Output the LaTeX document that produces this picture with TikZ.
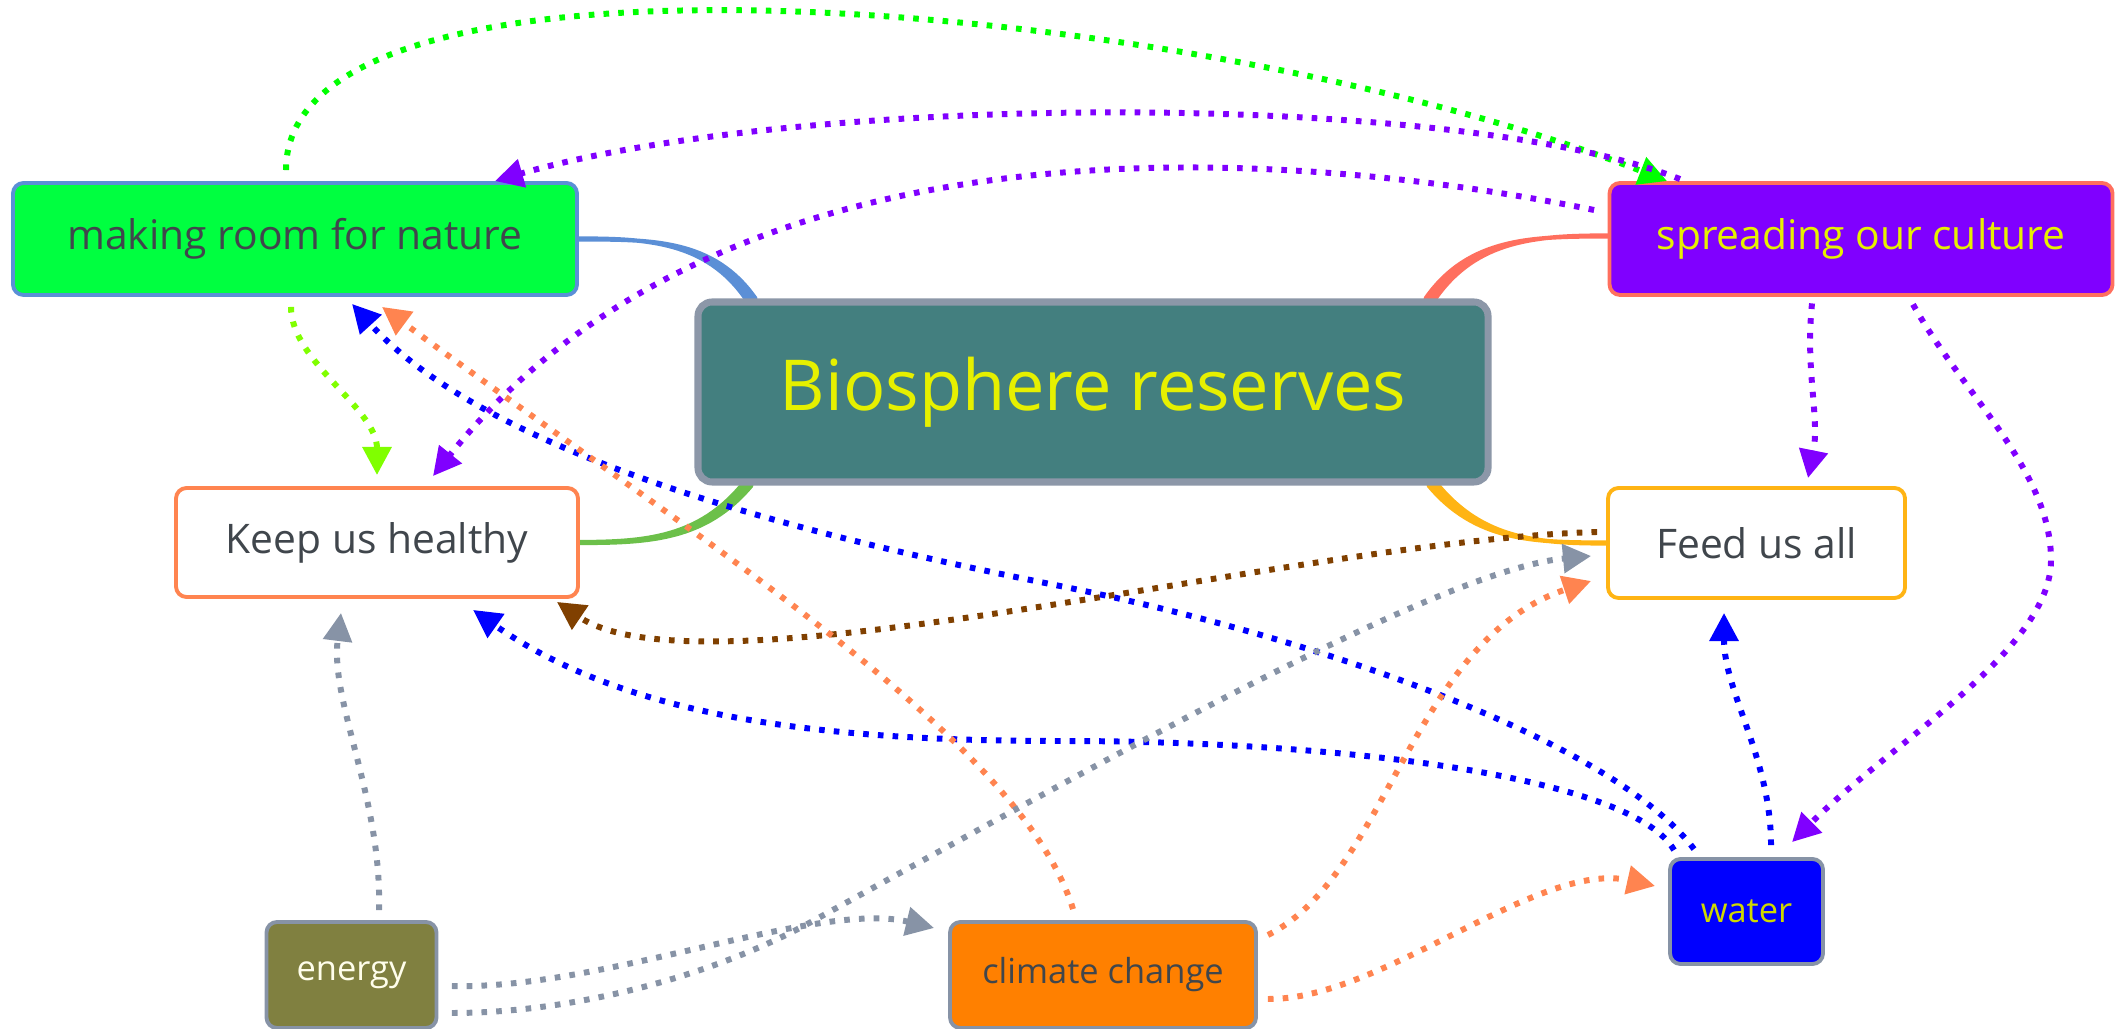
\documentclass[tikz,border=0pt]{standalone}
\usepackage{fontspec}
\setmainfont{Open Sans}
\usepackage{tikz}
\usetikzlibrary{arrows.meta,backgrounds}
\usepackage{xcolor}

\definecolor{hubfill}{RGB}{67,127,127}
\definecolor{hubedge}{RGB}{140,151,168}
\definecolor{hubtext}{RGB}{230,240,0}
\definecolor{txtgray}{RGB}{64,70,76}
\definecolor{cblue}{RGB}{91,143,214}
\definecolor{csalmon}{RGB}{255,111,94}
\definecolor{ccoral}{RGB}{255,132,80}
\definecolor{camber}{RGB}{255,180,20}
\definecolor{cleaf}{RGB}{108,192,74}
\definecolor{cgreen}{RGB}{0,255,64}
\definecolor{clime}{RGB}{0,255,0}
\definecolor{cchart}{RGB}{128,255,0}
\definecolor{cpurple}{RGB}{128,0,255}
\definecolor{cbrown}{RGB}{128,64,0}
\definecolor{cslate}{RGB}{135,147,166}
\definecolor{colive}{RGB}{128,128,64}
\definecolor{corange}{RGB}{255,128,0}
\definecolor{cwater}{RGB}{0,0,255}

\begin{document}
\begin{tikzpicture}[
    topic/.style={rectangle, rounded corners=3pt, draw, line width=1.1pt, minimum height=1.12cm,
        font=\fontsize{11.6}{14}\selectfont, text=txtgray},
    small/.style={rectangle, rounded corners=3pt, draw=cslate, line width=1.1pt, minimum height=1.06cm,
        font=\fontsize{9.8}{12}\selectfont},
    hub/.style={rectangle, rounded corners=4pt, draw=hubedge, fill=hubfill, line width=2pt,
        minimum width=7.9cm, minimum height=1.8cm, text=hubtext, font=\fontsize{20}{24}\selectfont},
    branch/.style={line width=1.2pt, line join=round},
    dotlink/.style={draw=#1, line width=1.7pt, dash pattern=on 1.6pt off 2.6pt,
        -{Triangle[length=8pt,width=8pt]}}
]
\useasboundingbox (0,0) rectangle (21.17,-10.29);

% Central topic
\node[hub] (bio) at (10.93,-3.92) {Biosphere reserves};

% Main branches
\node[topic, draw=cblue, fill=cgreen, minimum width=5.64cm] (room) at (2.95,-2.39) {making room for nature};
\node[topic, draw=csalmon, fill=cpurple, minimum width=5.03cm, text=hubtext] (spread) at (18.61,-2.39) {spreading our culture};
\node[topic, draw=ccoral, fill=white, minimum width=4.02cm, minimum height=1.09cm] (keep) at (3.77,-5.425) {Keep us healthy};
\node[topic, draw=camber, fill=white, minimum width=2.97cm, minimum height=1.1cm] (feed) at (17.565,-5.43) {Feed us all};

% Floating topics
\node[small, fill=colive, minimum width=1.7cm, text=white!92!yellow] (energy) at (3.515,-9.75) {energy};
\node[small, fill=corange, minimum width=3.06cm, text=txtgray] (climate) at (11.03,-9.75) {climate change};
\node[small, fill=cwater, minimum width=1.53cm, minimum height=1.05cm, text=hubtext!90!black] (water) at (17.465,-9.115) {water};

% Tapered branch lines under the hub
\begin{scope}[on background layer]
\filldraw[branch, cblue] ([yshift=0.005cm]room.east) to[out=0,in=125] ([xshift=0.51cm]bio.north west)
    -- ([xshift=0.61cm]bio.north west) to[out=125,in=0] ([yshift=-0.005cm]room.east) -- cycle;
\filldraw[branch, csalmon] ([yshift=0.035cm]spread.west) to[out=180,in=55] ([xshift=-0.56cm]bio.north east)
    -- ([xshift=-0.66cm]bio.north east) to[out=55,in=180] ([yshift=0.025cm]spread.west) -- cycle;
\filldraw[branch, camber] ([yshift=-0.005cm]feed.west) to[out=180,in=-50] ([xshift=-0.53cm]bio.south east)
    -- ([xshift=-0.63cm]bio.south east) to[out=-50,in=180] ([yshift=0.005cm]feed.west) -- cycle;
\filldraw[branch, cleaf] ([yshift=-0.005cm]keep.east) to[out=0,in=-130] ([xshift=0.57cm]bio.south west)
    -- ([xshift=0.47cm]bio.south west) to[out=-130,in=0] ([yshift=0.005cm]keep.east) -- cycle;
\end{scope}

% Relations
\draw[dotlink=clime] ([xshift=-0.09cm,yshift=0.11cm]room.north)
    .. controls +(0,2.52) and +(-4.67,1.82) .. ([xshift=-1.94cm]spread.north);
\draw[dotlink=cpurple] ([xshift=-1.81cm,yshift=0.02cm]spread.north)
    .. controls +(-2.3,0.9) and +(3.05,0.88) .. ([xshift=2.0cm]room.north);
\draw[dotlink=cpurple] ([xshift=-0.135cm,yshift=0.29cm]spread.west)
    .. controls +(-3.46,0.7) and +(2.87,3.58) .. ([xshift=0.56cm,yshift=0.1cm]keep.north);
\draw[dotlink=cchart] ([xshift=-0.04cm,yshift=-0.1cm]room.south)
    .. controls +(0,-0.55) and +(0,0.67) .. ([yshift=0.11cm]keep.north);
\draw[dotlink=cpurple] ([xshift=-0.49cm,yshift=-0.065cm]spread.south)
    .. controls +(-0.07,-0.68) and +(0.12,0.6) .. ([xshift=0.515cm,yshift=0.08cm]feed.north);
\draw[dotlink=cpurple] ([xshift=0.52cm,yshift=-0.075cm]spread.south)
    .. controls +(0.5,-0.9) and +(0,0.9) .. (20.51,-5.6)
    .. controls +(0,-0.9) and +(1.0,1.0) .. ([xshift=0.455cm,yshift=0.15cm]water.north);
\draw[dotlink=cbrown] ([xshift=-0.09cm,yshift=0.11cm]feed.west)
    .. controls +(-2.99,-0.08) and +(1.48,-1.0) .. ([xshift=-0.23cm,yshift=-0.03cm]keep.south east);

\draw[dotlink=cwater] ([xshift=-0.525cm,yshift=0.08cm]water.north)
    .. controls +(-0.84,1.11) and +(2.5,-0.5) .. (10.6,-5.86)
    .. controls +(-2.0,0.4) and +(1.5,-1.65) .. ([xshift=0.57cm,yshift=-0.07cm]room.south);
\draw[dotlink=cwater] ([xshift=-0.725cm,yshift=0.07cm]water.north)
    .. controls +(-0.4,0.7) and +(3.0,0) .. (10.6,-7.41)
    .. controls +(-2.5,0) and +(1.5,-1.05) .. ([xshift=0.96cm,yshift=-0.11cm]keep.south);
\draw[dotlink=cwater] ([xshift=0.245cm,yshift=0.12cm]water.north)
    .. controls +(0,0.87) and +(0,-0.79) .. ([xshift=-0.325cm,yshift=-0.13cm]feed.south);

\draw[dotlink=ccoral] ([xshift=-0.3cm,yshift=0.11cm]climate.north)
    .. controls +(-0.53,1.71) and +(3.18,-2.35) .. ([xshift=0.87cm,yshift=-0.1cm]room.south);
\draw[dotlink=ccoral] ([xshift=0.1cm,yshift=0.4cm]climate.east)
    .. controls +(1.2,0.6) and +(-1.8,-0.6) .. ([xshift=-0.15cm,yshift=-0.38cm]feed.west);
\draw[dotlink=ccoral] ([xshift=0.1cm,yshift=-0.24cm]climate.east)
    .. controls +(1.14,-0.01) and +(-1.17,0.26) .. ([xshift=-0.13cm,yshift=0.255cm]water.west);

\draw[dotlink=cslate] ([xshift=0.275cm,yshift=0.1cm]energy.north)
    .. controls +(0.03,1.12) and +(-0.11,-0.89) .. ([xshift=-0.36cm,yshift=-0.14cm]keep.south);
\draw[dotlink=cslate] ([xshift=0.135cm,yshift=-0.11cm]energy.east)
    .. controls +(1.5,-0.04) and +(-1.16,0.28) .. ([xshift=-0.14cm,yshift=0.47cm]climate.west);
\draw[dotlink=cslate] ([xshift=0.135cm,yshift=-0.38cm]energy.east)
    .. controls +(1.2,0) and +(-1.0,-0.55) .. (8.11,-9.22)
    .. controls +(3.0,1.65) and +(-1.5,-0.14) .. ([xshift=-0.15cm,yshift=-0.13cm]feed.west);

\end{tikzpicture}
\end{document}
